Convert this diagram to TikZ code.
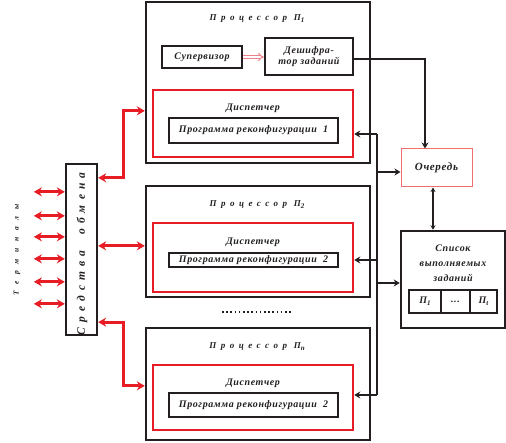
\documentclass[tikz,border=0pt]{standalone}
\usepackage{fontspec}
\setmainfont{Liberation Serif}
\newfontfamily\fA[LetterSpace=6]{Liberation Serif}
\newfontfamily\fT[LetterSpace=50]{Liberation Serif}
\newfontfamily\fS[LetterSpace=45]{Liberation Serif}
\newfontfamily\fR[LetterSpace=90]{Liberation Serif}
\usetikzlibrary{arrows.meta,calc}
\definecolor{rd}{RGB}{232,28,36}
\definecolor{dk}{RGB}{35,31,32}
\definecolor{lr}{RGB}{240,110,110}
\definecolor{pk}{RGB}{235,130,140}
\newcommand{\sbs}[1]{\raisebox{-2pt}{\fontsize{7}{8}\selectfont #1}}
\begin{document}
\begin{tikzpicture}[x=1pt,y=-1pt,
  box/.style={draw=dk, line width=2.3pt, inner sep=0pt},
  rbox/.style={draw=rd, line width=2.5pt, inner sep=0pt},
  lbl/.style={font=\fontsize{10}{11}\fA\bfseries\itshape, text=dk, inner sep=0pt},
  ttl/.style={font=\fontsize{9}{10}\fT\bfseries\itshape, text=dk, inner sep=0pt},
  redarr/.style={draw=rd, line width=3pt, {Stealth[length=8pt,width=9pt]}-{Stealth[length=8pt,width=9pt]}},
  blk/.style={draw=dk, line width=2.2pt},
  blkarr/.style={blk, -{Stealth[length=6pt,width=7pt]}}]
\useasboundingbox (0,0) rectangle (506,443);
% processors
\node[box, minimum width=224pt, minimum height=161pt] (p1) at (258,82.5) {};
\node[box, minimum width=224pt, minimum height=111pt] (p2) at (258,241.5) {};
\node[box, minimum width=224pt, minimum height=112pt] (pn) at (258,384) {};
\node[ttl] (t1) at (257,19) {Процессор П\sbs{1}};
\node[ttl] (t2) at (257,205) {Процессор П\sbs{2}};
\node[ttl] (tn) at (257,347) {Процессор П\sbs{n}};
% red dispatcher boxes
\node[rbox, minimum width=200pt, minimum height=67pt] (r1) at (253,123.5) {};
\node[rbox, minimum width=200pt, minimum height=69pt] (r2) at (253,257.5) {};
\node[rbox, minimum width=200pt, minimum height=65pt] (rn) at (253,397.5) {};
\node[lbl] (d1) at (253,108) {Диспетчер};
\node[lbl] (d2) at (253,242) {Диспетчер};
\node[lbl] (dn) at (253,383) {Диспетчер};
\node[box, lbl, minimum width=169pt, minimum height=25pt] (g1) at (253.5,130.5) {Программа реконфигурации\ \ 1};
\node[box, lbl, minimum width=169pt, minimum height=14pt] (g2) at (253.5,260) {Программа реконфигурации\ \ 2};
\node[box, lbl, minimum width=169pt, minimum height=24pt] (gn) at (253.5,405) {Программа реконфигурации\ \ 2};
% supervisor / decoder
\node[box, lbl, minimum width=80pt, minimum height=22pt] (sup) at (202,57) {Супервизор};
\node[box, lbl, minimum width=88pt, minimum height=37pt, align=center] (dec) at (309,56.5) {Дешифра-\\тор заданий};
\draw[draw=pk, line width=1pt, double=white, double distance=1.8pt, -{Implies}] (sup.east) -- (dec.west |- sup.east);
% queue and list
\node[draw=lr, line width=1pt, lbl, font=\fontsize{11}{12}\fA\bfseries\itshape, minimum width=71pt, minimum height=38pt] (q) at (436.5,168) {Очередь};
\node[box, line width=2.5pt, minimum width=104pt, minimum height=97pt] (l) at (453,279.5) {};
\node[lbl, align=center, font=\fontsize{10}{15}\fA\bfseries\itshape] (lt) at (453,263) {Список\\выполняемых\\заданий};
\node[box, lbl, line width=2.3pt, minimum width=32pt, minimum height=23pt] (c1) at (425,301.5) {П\sbs{1}};
\node[box, lbl, line width=2.3pt, minimum width=29pt, minimum height=23pt] (c2) at (455.5,301.5) {...};
\node[box, lbl, line width=2.3pt, minimum width=27pt, minimum height=23pt] (c3) at (483.5,301.5) {П\sbs{t}};
% exchange means
\node[box, minimum width=31pt, minimum height=171pt] (sr) at (81.5,249.5) {};
\node[rotate=90, font=\fontsize{11.5}{12}\fS\bfseries\itshape, text=dk] (srt) at (82,254) {Средства\ \ обмена};
\node[rotate=90, font=\fontsize{7.5}{8}\fR\bfseries\itshape, text=dk] (term) at (17,250) {Терминалы};
\foreach \yy in {29,53,74,96,119,141}
  \draw[redarr] ($(sr.north west)+(-31,\yy)$) -- ($(sr.north west)+(0,\yy)$);
\draw[redarr] ($(sr.north east)+(0,15)$) -- ++(25,0) |- ($(p1.north west)+(0,110)$);
\draw[redarr] ($(sr.north east)+(0,83)$) -- ($(p2.north west)+(0,61)$);
\draw[redarr] ($(sr.south east)+(0,-14)$) -- ++(25,0) |- ($(pn.north west)+(0,59)$);
% bus
\coordinate (b1) at (377,134);
\coordinate (b2) at (377,260);
\coordinate (b3) at (377,395);
\coordinate (bq) at (377,172);
\coordinate (bs) at (377,283);
\draw[blk] (b1) -- (b3);
\draw[blkarr] (b1) -- (r1.east |- b1);
\draw[blkarr] (b2) -- (r2.east |- b2);
\draw[blkarr] (b3) -- (rn.east |- b3);
\draw[blkarr] (bq) -- (q.west |- bq);
\draw[blkarr] (bs) -- (l.west |- bs);
\coordinate (dc) at (425,59);
\draw[blkarr] (dec.east |- dc) -- (dc) -- (dc |- q.north);
\draw[draw=dk, line width=1.5pt, {Stealth[length=4.5pt,width=5pt]}-{Stealth[length=4.5pt,width=5pt]}] ($(q.south)+(-3.5,0)$) -- ($(l.north)+(-20,0)$);
% dots
\coordinate (dt1) at (222,312);
\coordinate (dt2) at (293,312);
\draw[draw=dk, line width=1.6pt, dash pattern=on 1.6pt off 2.6pt] (dt1) -- (dt2);
\end{tikzpicture}
\end{document}
